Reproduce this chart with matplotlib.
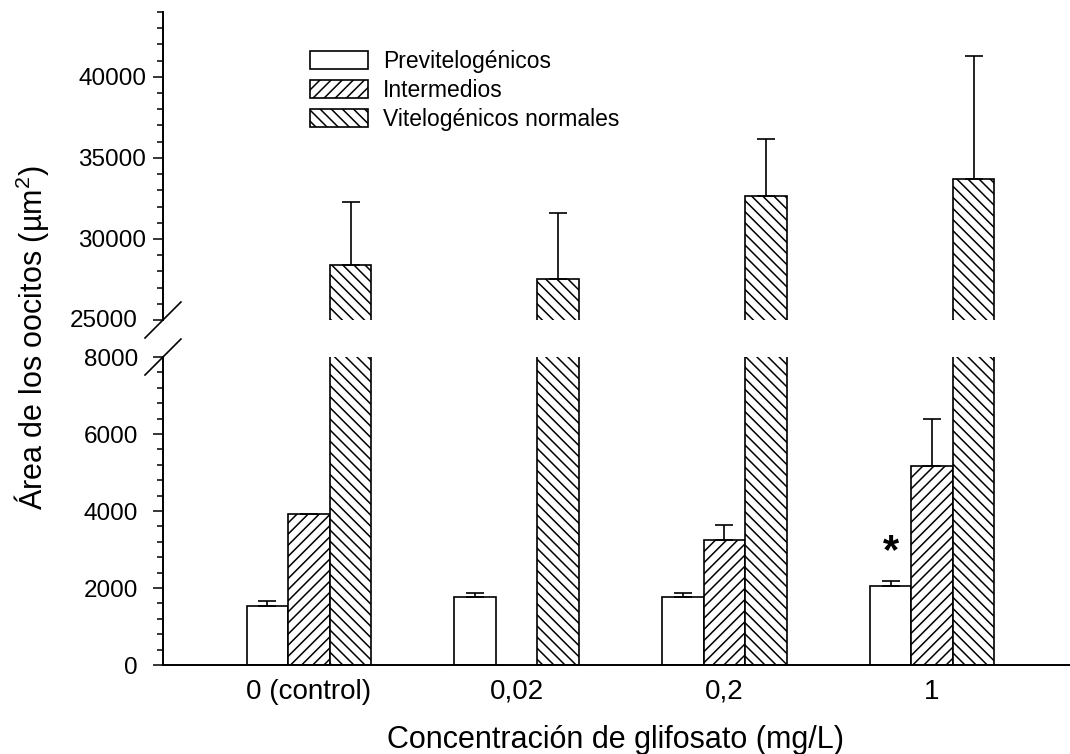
import numpy as np
import matplotlib
matplotlib.use('Agg')
import matplotlib.pyplot as plt
from matplotlib.ticker import MultipleLocator, FuncFormatter

plt.rcParams['font.family'] = ['Liberation Sans', 'DejaVu Sans']
plt.rcParams['mathtext.fontset'] = 'custom'
plt.rcParams['mathtext.rm'] = 'Liberation Sans'
plt.rcParams['hatch.linewidth'] = 1.1

# datos: area media de oocitos por estadio y concentracion de glifosato
concentraciones = ['0 (control)', '0,02', '0,2', '1']
previtelogenicos = [1540, 1770, 1770, 2040]
previtelogenicos_err = [120, 105, 105, 130]
intermedios = [3930, np.nan, 3256, 5180]
intermedios_err = [np.nan, np.nan, 390, 1200]
vitelogenicos = [28400, 27500, 32630, 33680]
vitelogenicos_err = [3880, 4070, 3510, 7620]

series = [
    ('Previtelogénicos', previtelogenicos, previtelogenicos_err, ''),
    ('Intermedios', intermedios, intermedios_err, '///'),
    ('Vitelogénicos normales', vitelogenicos, vitelogenicos_err, '\\\\\\'),
]

fig = plt.figure(figsize=(10.7, 7.54), dpi=100)
ax_top = fig.add_axes([0.1523, 0.5756, 0.8477, 0.4085])
ax_bot = fig.add_axes([0.1523, 0.1180, 0.8477, 0.4085])

x = np.arange(len(concentraciones))
w = 0.2
handles = []
for ax in (ax_top, ax_bot):
    handles = []
    for i, (nombre, vals, err, hatch) in enumerate(series):
        vals = np.array(vals, dtype=float)
        err = np.array(err, dtype=float)
        b = ax.bar(x + (i - 1) * w, vals, w, color='white', edgecolor='black',
                   linewidth=1.2, hatch=hatch, label=nombre,
                   yerr=[np.zeros_like(err), err], capsize=6.5,
                   error_kw=dict(elinewidth=1.2, capthick=1.2, ecolor='black'))
        handles.append(b)
    ax.set_xlim(-0.703, 3.664)
    ax.spines['top'].set_visible(False)
    ax.spines['right'].set_visible(False)
    ax.spines['left'].set_linewidth(1.4)
    ax.spines['bottom'].set_linewidth(1.4)
    ax.tick_params(axis='y', which='major', length=7, width=1.1, labelsize=17.5)
    ax.tick_params(axis='y', which='minor', length=4, width=1.1)

ax_top.set_ylim(25000, 44000)
ax_top.yaxis.set_major_locator(MultipleLocator(5000))
ax_top.yaxis.set_minor_locator(MultipleLocator(1000))
ax_top.yaxis.set_major_formatter(FuncFormatter(lambda v, p: '' if v <= 25000 else f'{v:.0f}'))
ax_top.spines['bottom'].set_visible(False)
ax_top.set_xticks([])
ax_top.tick_params(axis='y', which='major', pad=5)
# la etiqueta 25000 va algo mas a la izquierda, lejos de la marca de corte
ax_top.annotate('25000', xy=(0, 25000), xycoords=('axes fraction', 'data'),
                xytext=(-18, -1), textcoords='offset points', ha='right',
                va='center', fontsize=17.5)

ax_bot.set_ylim(0, 8000)
ax_bot.yaxis.set_major_locator(MultipleLocator(2000))
ax_bot.yaxis.set_minor_locator(MultipleLocator(400))
ax_bot.tick_params(axis='y', which='major', pad=11)
ax_bot.set_xticks(x)
ax_bot.set_xticklabels(concentraciones)
ax_bot.tick_params(axis='x', length=0, labelsize=20, pad=10)

# marcas de corte del eje
dx, dy = 0.0198, 0.0584
ax_top.plot((-dx, dx), (-dy, dy), transform=ax_top.transAxes, color='black',
            lw=1.2, clip_on=False)
ax_bot.plot((-dx, dx), (1 - dy, 1 + dy), transform=ax_bot.transAxes, color='black',
            lw=1.2, clip_on=False)

# diferencia significativa
ax_bot.text(x[3] - w, previtelogenicos[3] + previtelogenicos_err[3] + 250, '*',
            ha='center', va='bottom', fontsize=30, fontweight='bold')

fig.legend(handles=handles, loc='upper left', bbox_to_anchor=(0.2897, 0.934),
           frameon=False, fontsize=16.5, handlelength=2.53, handleheight=0.81,
           handletextpad=0.66, labelspacing=0.26, borderpad=0, borderaxespad=0)

# titulos de ejes centrados sobre cada eje
fig.text(0.029, 0.552, 'Área de los oocitos (µm$^2$)', rotation=90,
         ha='center', va='center', fontsize=22)
fig.text(0.5757, 0.0075, 'Concentración de glifosato (mg/L)', ha='center',
         va='baseline', fontsize=22)

fig.savefig('out.png', dpi=100)
